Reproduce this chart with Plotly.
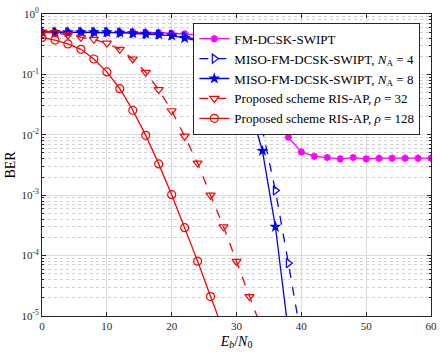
import plotly.graph_objects as go

# FM-DCSK-SWIPT (values under the legend are estimated)
fm_x = list(range(0, 62, 2))
fm_ber = [0.5, 0.5, 0.5, 0.5, 0.5, 0.5, 0.5, 0.5, 0.49, 0.49, 0.48, 0.47, 0.46, 0.44,
          0.38, 0.25, 0.12, 0.045, 0.020, 0.0091, 0.0052, 0.0044, 0.0042, 0.0040,
          0.0042, 0.0040, 0.0041, 0.0041, 0.0041, 0.0041, 0.0041]

miso4_x = list(range(0, 42, 2))
miso4_ber = [0.5, 0.5, 0.5, 0.5, 0.5, 0.5, 0.49, 0.48, 0.47, 0.46, 0.45, 0.42,
             0.38, 0.32, 0.22, 0.12, 0.045, 0.012, 1.2e-3, 7.5e-5, 4.3e-6]

miso8_x = list(range(0, 40, 2))
miso8_ber = [0.5, 0.5, 0.5, 0.5, 0.5, 0.5, 0.49, 0.48, 0.47, 0.46, 0.44, 0.40,
             0.36, 0.30, 0.20, 0.10, 0.03, 0.0054, 3.0e-4, 5.5e-6]

ris32_x = list(range(0, 36, 2))
ris32_ber = [0.5, 0.49, 0.45, 0.41, 0.38, 0.33, 0.26, 0.18, 0.108, 0.056, 0.025,
             0.0095, 0.0034, 1.0e-3, 3.0e-4, 8.0e-5, 2.1e-5, 5.7e-6]

ris128_x = list(range(0, 30, 2))
ris128_ber = [0.41, 0.37, 0.32, 0.26, 0.18, 0.11, 0.058, 0.0255, 0.0098, 0.0033,
              1.02e-3, 2.9e-4, 8.1e-5, 2.1e-5, 5.6e-6]

fig = go.Figure()
fig.add_trace(go.Scatter(x=fm_x, y=fm_ber, mode='lines+markers', name='FM-DCSK-SWIPT',
                         line=dict(color='#ff00ff', width=1.3),
                         marker=dict(symbol='asterisk-open', size=6,
                                     line=dict(color='#ff00ff', width=2))))
fig.add_trace(go.Scatter(x=miso4_x, y=miso4_ber, mode='lines+markers',
                         name='MISO-FM-DCSK-SWIPT, <i>N</i><sub>A</sub> = 4',
                         line=dict(color='#0000ff', width=1.3, dash='dash'),
                         marker=dict(symbol='triangle-right-open', size=8,
                                     line=dict(color='#0000ff', width=1.2))))
fig.add_trace(go.Scatter(x=miso8_x, y=miso8_ber, mode='lines+markers',
                         name='MISO-FM-DCSK-SWIPT, <i>N</i><sub>A</sub> = 8',
                         line=dict(color='#0000ff', width=1.3),
                         marker=dict(symbol='star', size=9, color='#0000ff')))
fig.add_trace(go.Scatter(x=ris32_x, y=ris32_ber, mode='lines+markers',
                         name='Proposed scheme RIS-AP, <i>ρ</i> = 32',
                         line=dict(color='#ff0000', width=1.3, dash='dash'),
                         marker=dict(symbol='triangle-down-open', size=8,
                                     line=dict(color='#ff0000', width=1.2))))
fig.add_trace(go.Scatter(x=ris128_x, y=ris128_ber, mode='lines+markers',
                         name='Proposed scheme RIS-AP, <i>ρ</i> = 128',
                         line=dict(color='#ff0000', width=1.3),
                         marker=dict(symbol='circle-open', size=8,
                                     line=dict(color='#ff0000', width=1.2))))

major = [10 ** e for e in range(-5, 1)]
major_txt = ['10<sup>%d</sup>' % e for e in range(-5, 1)]
minor = [k * 10 ** e for e in range(-5, 0) for k in range(2, 10)]

fig.update_layout(
    width=443, height=354,
    margin=dict(l=42, r=6, t=7, b=38),
    paper_bgcolor='white', plot_bgcolor='white',
    font=dict(family='Liberation Serif', size=11, color='#262626'),
    showlegend=True,
    legend=dict(x=0.389, y=0.971, xanchor='left', yanchor='top',
                bgcolor='white', bordercolor='#262626', borderwidth=1,
                font=dict(size=13, color='black'), tracegroupgap=0,
                itemwidth=30),
)
fig.update_xaxes(range=[0, 60], dtick=10, showgrid=True, gridcolor='#dcdcdc',
                 ticks='inside', ticklen=4, tickcolor='#262626',
                 showline=True, linecolor='#262626', mirror='allticks',
                 zeroline=False, ticklabeloverflow='allow',
                 title=dict(text='<i>E</i><sub><i>b</i></sub>/<i>N</i><sub>0</sub>',
                            font=dict(size=14, color='black'), standoff=4))
fig.update_yaxes(type='log', range=[-5, 0], tickvals=major, ticktext=major_txt,
                 showgrid=True, gridcolor='#dcdcdc',
                 ticks='inside', ticklen=4, tickcolor='#262626',
                 showline=True, linecolor='#262626', mirror='allticks',
                 ticklabeloverflow='allow',
                 minor=dict(tickvals=minor, showgrid=True, gridcolor='#d0d0d0',
                            griddash='dot', ticks='inside', ticklen=2),
                 title=dict(text='BER', font=dict(size=14, color='black'), standoff=2))

# drop the default 8px body margin so the figure fills the window
fig.write_html("out.html", config={'displayModeBar': False},
               post_script="document.body.style.margin='0px';")
